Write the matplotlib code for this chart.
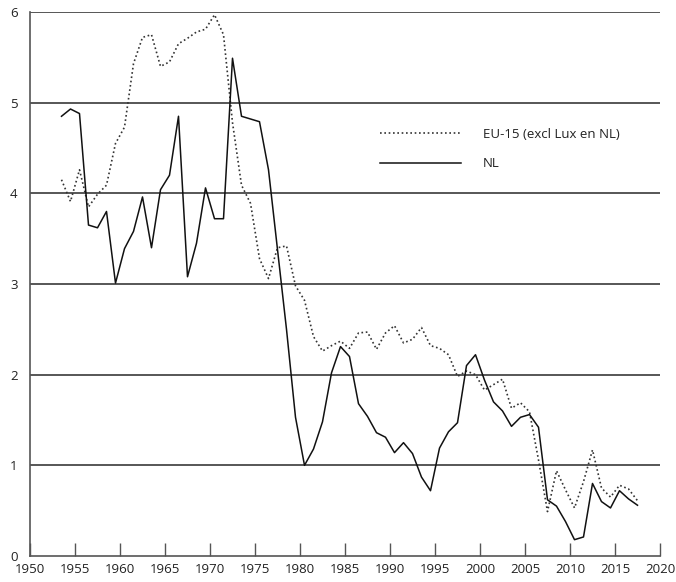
import matplotlib
matplotlib.use('Agg')
import matplotlib.pyplot as plt
import numpy as np

plt.rcParams['font.family'] = ['Open Sans', 'DejaVu Sans']

years = np.arange(1954, 2019)

nl = [4.85, 4.93, 4.88, 3.65, 3.62, 3.80, 3.01, 3.39, 3.58, 3.96,
      3.40, 4.04, 4.20, 4.85, 3.08, 3.45, 4.06, 3.72, 3.72, 5.49,
      4.85, 4.82, 4.79, 4.26, 3.38, 2.50, 1.53, 1.00, 1.18, 1.48,
      2.02, 2.31, 2.20, 1.68, 1.54, 1.36, 1.31, 1.14, 1.25, 1.13,
      0.87, 0.72, 1.19, 1.37, 1.47, 2.10, 2.22, 1.94, 1.70, 1.60,
      1.43, 1.53, 1.56, 1.42, 0.62, 0.55, 0.38, 0.18, 0.21, 0.80,
      0.60, 0.53, 0.72, 0.63, 0.56]

eu15 = [4.15, 3.91, 4.26, 3.85, 3.99, 4.09, 4.55, 4.73, 5.43, 5.72,
        5.75, 5.40, 5.45, 5.65, 5.71, 5.78, 5.81, 5.97, 5.75, 4.78,
        4.09, 3.89, 3.28, 3.06, 3.40, 3.42, 2.98, 2.82, 2.42, 2.26,
        2.32, 2.37, 2.29, 2.46, 2.47, 2.28, 2.46, 2.54, 2.35, 2.39,
        2.52, 2.32, 2.29, 2.22, 1.98, 2.04, 2.00, 1.83, 1.89, 1.95,
        1.63, 1.69, 1.59, 1.06, 0.49, 0.94, 0.73, 0.53, 0.82, 1.17,
        0.75, 0.65, 0.78, 0.74, 0.61]

labels = ['EU-15 (excl Lux en NL)', 'NL']
xticks = np.arange(1950, 2021, 5)
yticks = [0, 1, 2, 3, 4, 5, 6]

fig = plt.figure(figsize=(6.76, 5.82), dpi=100)
ax = fig.add_axes([30/676, 26/582, 630/676, 544/582])

# gridlines
for v in yticks[1:]:
    ax.axhline(v, color='#3a3a3a', lw=1.2, zorder=1)

x = years - 0.5  # points sit in the middle of the year
ax.plot(x, eu15, color='#333333', lw=1.2, ls=(0, (1, 1.6)), label=labels[0], zorder=3)
ax.plot(x, nl, color='#111111', lw=1.1, label=labels[1], zorder=3)

ax.set_xlim(1950, 2020)
ax.set_ylim(0, 6)
ax.set_xticks(xticks)
ax.set_yticks(yticks)
for s in ['top', 'right']:
    ax.spines[s].set_visible(False)
ax.spines['left'].set_color('#555555')
ax.spines['bottom'].set_color('#555555')
ax.spines['left'].set_linewidth(1.2)
ax.spines['bottom'].set_linewidth(1.2)
ax.tick_params(axis='x', direction='in', length=9.5, width=1, color='#555555',
               labelsize=9.5, pad=5, labelcolor='#222222')
ax.tick_params(axis='y', length=0, labelsize=9.5, pad=9, labelcolor='#222222')

leg = ax.legend(loc='upper left', bbox_to_anchor=(0.556, 0.787), frameon=False,
                prop={'size': 9.5}, handlelength=6.1, handletextpad=1.65,
                labelspacing=1.25, borderpad=0, borderaxespad=0)
for t in leg.get_texts():
    t.set_color('#222222')

plt.savefig('out.png', dpi=100)
